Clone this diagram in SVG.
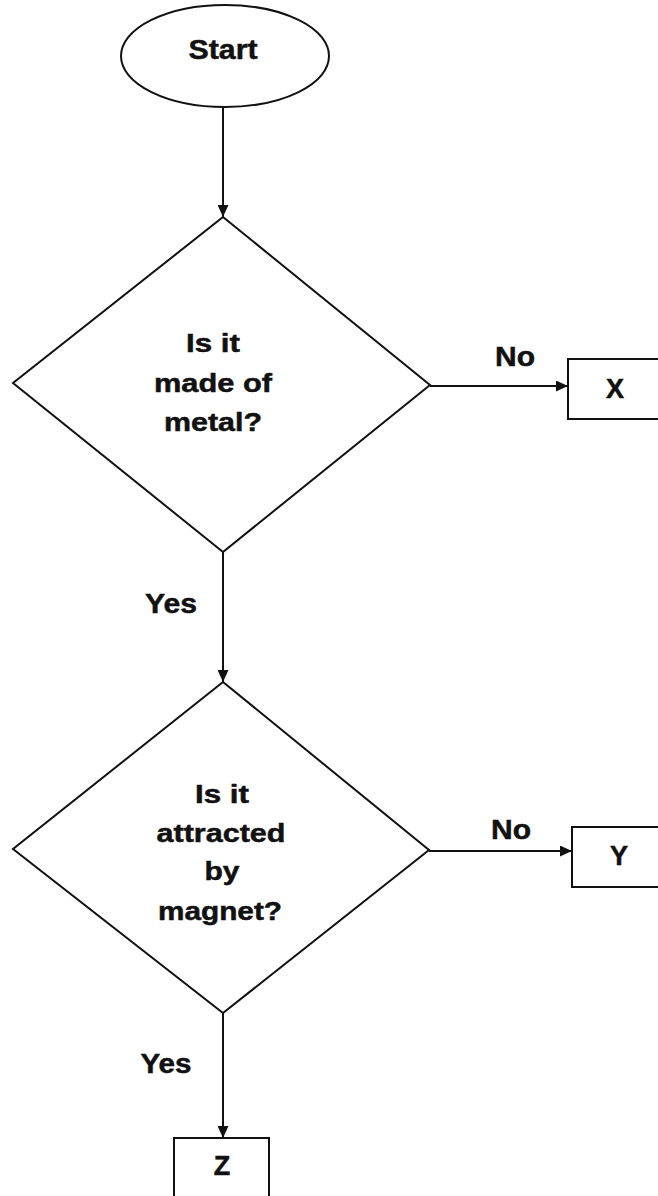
<svg xmlns="http://www.w3.org/2000/svg" width="658" height="1196" viewBox="0 0 658 1196">
<style>
.shape{fill:none;stroke:#111;stroke-width:2}
.conn{fill:none;stroke:#111;stroke-width:2}
text{font-family:"Liberation Sans",Arial,sans-serif;font-weight:bold;fill:#111;stroke:#111;stroke-width:0.5;text-anchor:middle}
.q{font-size:26px}
.lbl{font-size:27px}
</style>
<defs>
<marker id="arr" markerUnits="userSpaceOnUse" markerWidth="12" markerHeight="11" refX="12" refY="5.5" orient="auto">
<path d="M0,0 L12,5.5 L0,11 z" fill="#111"/>
</marker>
</defs>
<rect width="658" height="1196" fill="#fff" stroke="none"/>
<g id="connectors">
<line class="conn" x1="223" y1="107" x2="223" y2="217" marker-end="url(#arr)"/>
<line class="conn" x1="430" y1="386" x2="568" y2="386" marker-end="url(#arr)"/>
<line class="conn" x1="223" y1="552" x2="223" y2="682" marker-end="url(#arr)"/>
<line class="conn" x1="429" y1="851" x2="572" y2="851" marker-end="url(#arr)"/>
<line class="conn" x1="223" y1="1013" x2="223" y2="1138" marker-end="url(#arr)"/>
<text class="lbl" x="515" y="366" textLength="40" lengthAdjust="spacingAndGlyphs">No</text>
<text class="lbl" x="511" y="839" textLength="40" lengthAdjust="spacingAndGlyphs">No</text>
<text class="lbl" x="171" y="613" textLength="52" lengthAdjust="spacingAndGlyphs">Yes</text>
<text class="lbl" x="166" y="1073" textLength="51" lengthAdjust="spacingAndGlyphs">Yes</text>
</g>
<g id="start">
<ellipse class="shape" cx="225" cy="56" rx="104" ry="51"/>
<text class="lbl" x="223" y="59" textLength="69" lengthAdjust="spacingAndGlyphs">Start</text>
</g>
<g id="metal">
<polygon class="shape" points="223,217 430,385 223,552 13,383"/>
<text class="q" x="213" y="352" textLength="54" lengthAdjust="spacingAndGlyphs">Is it</text>
<text class="q" x="213" y="392" textLength="118" lengthAdjust="spacingAndGlyphs">made of</text>
<text class="q" x="213" y="431" textLength="98" lengthAdjust="spacingAndGlyphs">metal?</text>
</g>
<g id="magnet">
<polygon class="shape" points="223,682 429,850 223,1013 13,849"/>
<text class="q" x="222" y="803" textLength="54" lengthAdjust="spacingAndGlyphs">Is it</text>
<text class="q" x="221" y="842" textLength="129" lengthAdjust="spacingAndGlyphs">attracted</text>
<text class="q" x="222" y="880" textLength="35" lengthAdjust="spacingAndGlyphs">by</text>
<text class="q" x="220" y="920" textLength="124" lengthAdjust="spacingAndGlyphs">magnet?</text>
</g>
<g id="x">
<rect class="shape" x="568" y="359" width="100" height="60"/>
<text class="lbl" x="615" y="398">X</text>
</g>
<g id="y">
<rect class="shape" x="572" y="827" width="100" height="60"/>
<text class="lbl" x="619" y="865">Y</text>
</g>
<g id="z">
<rect class="shape" x="174" y="1138" width="95" height="70"/>
<text class="lbl" x="222" y="1175">Z</text>
</g>
</svg>
